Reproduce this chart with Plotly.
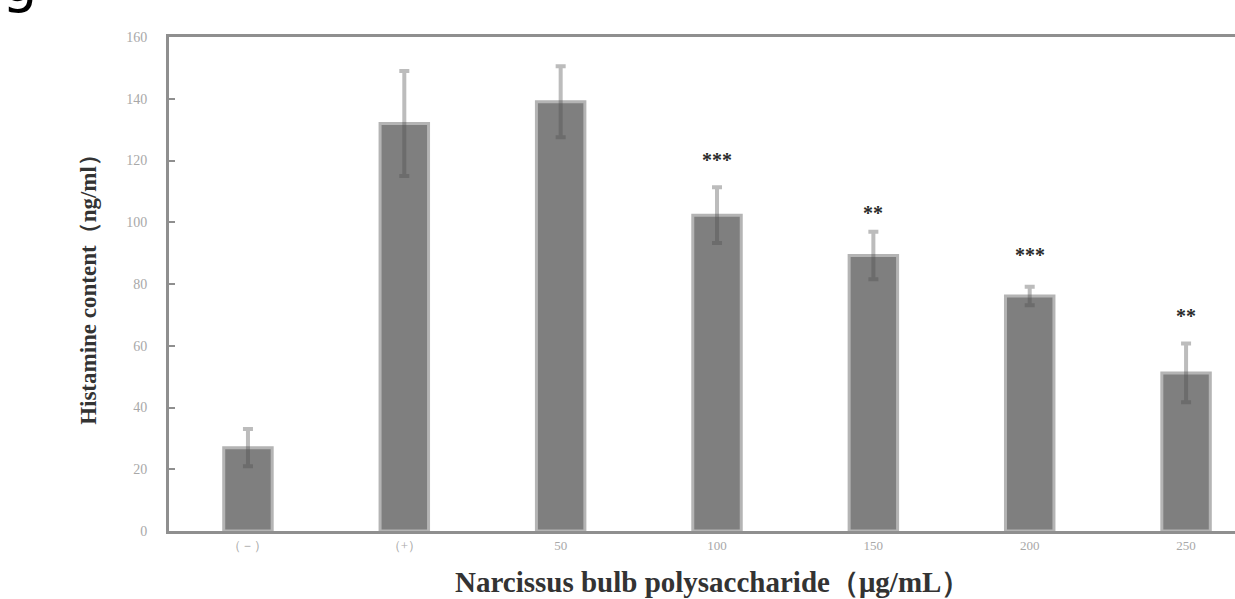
import plotly.graph_objects as go

categories = ["(－)", "(+)", "50", "100", "150", "200", "250"]
tick_labels = ["（－）", "（+）", "50", "100", "150", "200", "250"]
histamine = [27, 132, 139, 102.3, 89.2, 76.1, 51.2]
errors = [6, 17, 11.5, 9, 7.7, 3, 9.5]
stars = ["", "", "", "***", "**", "***", "**"]
star_y = [0, 0, 0, 120.8, 103.7, 90.0, 70.3]

x_idx = list(range(len(categories)))

fig = go.Figure()
fig.add_trace(go.Bar(
    x=x_idx, y=histamine, width=0.31,
    marker=dict(color="#7f7f7f", line=dict(color="#b4b4b4", width=3)),
    error_y=dict(type="data", array=errors, visible=True,
                 color="rgba(80,80,80,0.38)", thickness=4, width=5),
    showlegend=False,
))

for xi, s, sy in zip(x_idx, stars, star_y):
    if s:
        fig.add_annotation(x=xi, y=sy, text="<b>" + s + "</b>", showarrow=False,
                           yanchor="middle", yshift=-2,
                           font=dict(family="Liberation Serif", size=20, color="#2a2a2a"))

fig.add_annotation(xref="paper", yref="paper", x=-0.159, y=1.0, yshift=21,
                   text="g", showarrow=False, xanchor="left", yanchor="bottom",
                   font=dict(family="DejaVu Sans", size=56, color="#000000"))

fig.add_annotation(xref="paper", yref="paper", x=0.510, y=-0.103,
                   text="<b>Narcissus bulb polysaccharide（μg/mL）</b>",
                   showarrow=False, xanchor="center", yanchor="middle",
                   font=dict(family="Liberation Serif", size=29, color="#333333"))

fig.update_layout(
    width=1235, height=599,
    margin=dict(l=169, r=0, t=37, b=68),
    paper_bgcolor="white", plot_bgcolor="white",
    xaxis=dict(
        range=[-0.505, 6.313],
        tickmode="array", tickvals=x_idx, ticktext=tick_labels,
        showline=True, linecolor="#8f8f8f", linewidth=3, mirror=True,
        ticks="", showgrid=False, zeroline=False,
        tickfont=dict(family="Liberation Serif", size=13, color="#a8a8a8"),
    ),
    yaxis=dict(
        range=[0, 160], dtick=20,
        showline=True, linecolor="#8f8f8f", linewidth=3,
        ticks="inside", ticklen=6, tickcolor="#8f8f8f", tickwidth=2,
        showgrid=False, zeroline=False,
        tickfont=dict(family="Liberation Serif", size=14, color="#a8a8a8"),
        ticklabelstandoff=16,
        title=dict(text="<b>Histamine content（ng/ml）</b>", standoff=24,
                   font=dict(family="Liberation Serif", size=23, color="#333333")),
    ),
)

fig.write_html("out.html", config={"displayModeBar": False},
               post_script="document.body.style.margin='0px';")
